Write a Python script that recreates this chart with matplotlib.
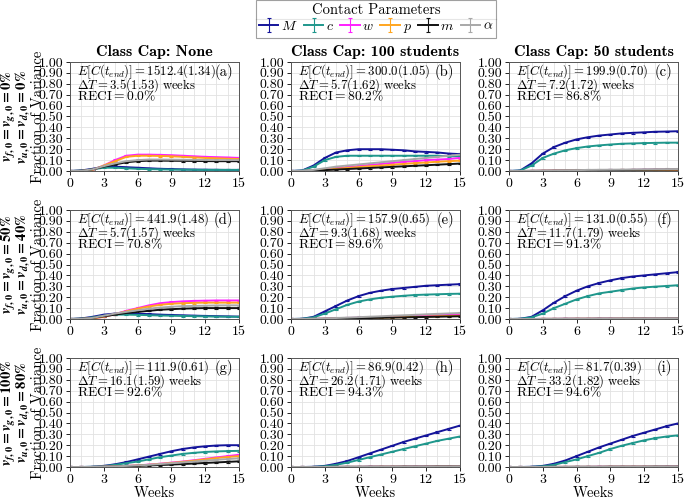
import matplotlib
matplotlib.use('Agg')
import matplotlib.pyplot as plt
from matplotlib.lines import Line2D
from matplotlib.ticker import MultipleLocator, FormatStrFormatter

plt.rcParams['font.family'] = 'serif'
plt.rcParams['font.serif'] = ['cmr10', 'DejaVu Serif']
plt.rcParams['mathtext.fontset'] = 'cm'
# bold italic math used only for the row labels (math_fontfamily='custom')
plt.rcParams['mathtext.it'] = 'STIXGeneral:italic:bold'
plt.rcParams['mathtext.rm'] = 'STIXGeneral:bold'
plt.rcParams['mathtext.bf'] = 'STIXGeneral:bold'
plt.rcParams['mathtext.cal'] = 'STIXGeneral:bold'
plt.rcParams['mathtext.sf'] = 'STIXGeneral:bold'
plt.rcParams['mathtext.tt'] = 'STIXGeneral:bold'
plt.rcParams['axes.unicode_minus'] = False

# ── Data ───────────────────────────────────────────────────────────────
weeks = list(range(16))
ERR = 0.006

params = ['M', 'c', 'w', 'p', 'm', 'alpha']
labels = [r'$M$', r'$c$', r'$w$', r'$p$', r'$m$', r'$\alpha$']
colors = ['#14149a', '#1f978c', '#ff1fff', '#ffa51f', '#111111', '#a8a8a8']

col_titles = ['Class Cap: None', 'Class Cap: 100 students', 'Class Cap: 50 students']
row_labels = [(r'$v_{f,0} = v_{g,0} = 0\%$', r'$v_{u,0} = v_{d,0} = 0\%$'),
              (r'$v_{f,0} = v_{g,0} = 50\%$', r'$v_{u,0} = v_{d,0} = 40\%$'),
              (r'$v_{f,0} = v_{g,0} = 100\%$', r'$v_{u,0} = v_{d,0} = 80\%$')]

e_cost = ['1512.4(1.34)', '300.0(1.05)', '199.9(0.70)',
          '441.9(1.48)', '157.9(0.65)', '131.0(0.55)',
          '111.9(0.61)', '86.9(0.42)', '81.7(0.39)']
delta_t = ['3.5(1.53)', '5.7(1.62)', '7.2(1.72)',
           '5.7(1.57)', '9.3(1.68)', '11.7(1.79)',
           '16.1(1.59)', '26.2(1.71)', '33.2(1.82)']
reci = ['0.0', '80.2', '86.8', '70.8', '89.6', '91.3', '92.6', '94.3', '94.6']
tags = ['(a)', '(b)', '(c)', '(d)', '(e)', '(f)', '(g)', '(h)', '(i)']

# panel (a)
M_a = [0, 0.005, 0.02, 0.04, 0.04, 0.035, 0.03, 0.025, 0.02, 0.018, 0.015, 0.013, 0.012, 0.011, 0.010, 0.010]
c_a = [0, 0.003, 0.015, 0.03, 0.03, 0.025, 0.02, 0.017, 0.015, 0.013, 0.012, 0.011, 0.010, 0.010, 0.010, 0.010]
w_a = [0, 0.0, 0.01, 0.05, 0.10, 0.14, 0.15, 0.15, 0.148, 0.145, 0.14, 0.135, 0.13, 0.127, 0.124, 0.12]
p_a = [0, 0.0, 0.01, 0.05, 0.09, 0.13, 0.14, 0.14, 0.138, 0.135, 0.13, 0.125, 0.12, 0.117, 0.113, 0.11]
m_a = [0, 0.002, 0.015, 0.04, 0.06, 0.08, 0.09, 0.095, 0.095, 0.094, 0.093, 0.092, 0.091, 0.09, 0.09, 0.09]
al_a = [0, 0.002, 0.015, 0.045, 0.07, 0.09, 0.10, 0.105, 0.105, 0.104, 0.103, 0.102, 0.101, 0.10, 0.10, 0.10]
# panel (b)
M_b = [0, 0.005, 0.05, 0.12, 0.17, 0.19, 0.20, 0.20, 0.20, 0.195, 0.19, 0.18, 0.175, 0.17, 0.16, 0.155]
c_b = [0, 0.004, 0.04, 0.10, 0.13, 0.14, 0.14, 0.14, 0.14, 0.14, 0.14, 0.14, 0.14, 0.14, 0.135, 0.135]
w_b = [0, 0, 0.005, 0.015, 0.025, 0.035, 0.045, 0.055, 0.065, 0.075, 0.085, 0.09, 0.10, 0.105, 0.11, 0.12]
p_b = [0, 0, 0.004, 0.012, 0.02, 0.028, 0.036, 0.044, 0.05, 0.058, 0.065, 0.072, 0.078, 0.085, 0.09, 0.095]
m_b = [0, 0, 0.003, 0.008, 0.013, 0.018, 0.023, 0.028, 0.033, 0.038, 0.043, 0.048, 0.053, 0.058, 0.063, 0.068]
al_b = [0, 0.002, 0.01, 0.025, 0.04, 0.05, 0.06, 0.07, 0.08, 0.09, 0.10, 0.11, 0.12, 0.13, 0.14, 0.15]
# panel (c)
M_c = [0, 0.005, 0.07, 0.16, 0.22, 0.26, 0.29, 0.31, 0.325, 0.335, 0.345, 0.35, 0.355, 0.36, 0.362, 0.365]
c_c = [0, 0.004, 0.05, 0.12, 0.16, 0.19, 0.21, 0.225, 0.235, 0.243, 0.25, 0.253, 0.256, 0.258, 0.26, 0.26]
w_c = [0, 0, 0.001, 0.002, 0.003, 0.004, 0.005, 0.006, 0.007, 0.008, 0.009, 0.01, 0.011, 0.012, 0.012, 0.013]
p_c = [0, 0, 0.001, 0.002, 0.003, 0.004, 0.005, 0.005, 0.006, 0.007, 0.008, 0.008, 0.009, 0.01, 0.01, 0.011]
m_c = [0, 0, 0.001, 0.002, 0.003, 0.004, 0.005, 0.006, 0.007, 0.008, 0.009, 0.01, 0.011, 0.012, 0.013, 0.014]
al_c = [0, 0, 0.002, 0.004, 0.005, 0.007, 0.008, 0.01, 0.011, 0.012, 0.013, 0.014, 0.015, 0.016, 0.017, 0.018]
# panel (d)
M_d = [0, 0.005, 0.02, 0.04, 0.05, 0.05, 0.048, 0.045, 0.04, 0.037, 0.034, 0.031, 0.028, 0.026, 0.024, 0.022]
c_d = [0, 0.003, 0.015, 0.03, 0.04, 0.04, 0.038, 0.035, 0.032, 0.03, 0.028, 0.026, 0.024, 0.022, 0.021, 0.02]
w_d = [0, 0, 0.005, 0.02, 0.045, 0.075, 0.10, 0.125, 0.145, 0.155, 0.162, 0.166, 0.168, 0.17, 0.17, 0.17]
p_d = [0, 0, 0.005, 0.02, 0.045, 0.07, 0.095, 0.115, 0.13, 0.14, 0.145, 0.148, 0.15, 0.15, 0.15, 0.15]
m_d = [0, 0.002, 0.01, 0.025, 0.04, 0.055, 0.065, 0.075, 0.085, 0.09, 0.095, 0.098, 0.10, 0.10, 0.10, 0.10]
al_d = [0, 0.002, 0.01, 0.03, 0.05, 0.065, 0.08, 0.095, 0.105, 0.112, 0.118, 0.12, 0.122, 0.124, 0.125, 0.125]
# panel (e)
M_e = [0, 0.002, 0.02, 0.07, 0.12, 0.17, 0.21, 0.24, 0.26, 0.275, 0.285, 0.295, 0.305, 0.31, 0.315, 0.32]
c_e = [0, 0.002, 0.015, 0.05, 0.09, 0.13, 0.16, 0.18, 0.195, 0.205, 0.213, 0.22, 0.224, 0.227, 0.23, 0.232]
w_e = [0, 0, 0.001, 0.003, 0.006, 0.009, 0.012, 0.015, 0.018, 0.021, 0.024, 0.028, 0.031, 0.034, 0.037, 0.04]
p_e = [0, 0, 0.001, 0.002, 0.004, 0.006, 0.008, 0.01, 0.012, 0.015, 0.017, 0.02, 0.022, 0.025, 0.028, 0.03]
m_e = [0, 0, 0.001, 0.002, 0.004, 0.005, 0.007, 0.009, 0.011, 0.013, 0.015, 0.017, 0.019, 0.021, 0.023, 0.025]
al_e = [0, 0, 0.002, 0.005, 0.009, 0.013, 0.017, 0.021, 0.025, 0.03, 0.034, 0.038, 0.043, 0.047, 0.051, 0.055]
# panel (f)
M_f = [0, 0.002, 0.02, 0.08, 0.15, 0.21, 0.26, 0.30, 0.33, 0.355, 0.375, 0.39, 0.40, 0.41, 0.42, 0.43]
c_f = [0, 0.002, 0.015, 0.05, 0.10, 0.14, 0.18, 0.21, 0.235, 0.25, 0.265, 0.28, 0.29, 0.297, 0.303, 0.31]
w_f = [0, 0, 0, 0.001, 0.001, 0.002, 0.002, 0.002, 0.003, 0.003, 0.003, 0.003, 0.004, 0.004, 0.004, 0.004]
p_f = [0, 0, 0, 0.001, 0.001, 0.001, 0.002, 0.002, 0.002, 0.002, 0.003, 0.003, 0.003, 0.003, 0.003, 0.003]
m_f = [0, 0, 0, 0.001, 0.001, 0.002, 0.002, 0.002, 0.003, 0.003, 0.003, 0.004, 0.004, 0.004, 0.005, 0.005]
al_f = [0, 0, 0, 0.001, 0.002, 0.002, 0.003, 0.003, 0.004, 0.004, 0.005, 0.005, 0.005, 0.006, 0.006, 0.006]
# panel (g)
M_g = [0, 0, 0.002, 0.01, 0.025, 0.045, 0.07, 0.095, 0.12, 0.145, 0.165, 0.18, 0.19, 0.197, 0.2, 0.2]
c_g = [0, 0, 0.002, 0.008, 0.02, 0.035, 0.05, 0.07, 0.09, 0.105, 0.12, 0.13, 0.138, 0.143, 0.146, 0.148]
w_g = [0, 0, 0, 0.002, 0.005, 0.01, 0.015, 0.022, 0.03, 0.04, 0.05, 0.062, 0.075, 0.088, 0.1, 0.112]
p_g = [0, 0, 0, 0.002, 0.005, 0.009, 0.014, 0.02, 0.028, 0.037, 0.047, 0.058, 0.07, 0.082, 0.092, 0.1]
m_g = [0, 0, 0, 0.002, 0.004, 0.007, 0.01, 0.014, 0.018, 0.022, 0.027, 0.032, 0.037, 0.042, 0.047, 0.052]
al_g = [0, 0, 0.001, 0.003, 0.006, 0.01, 0.015, 0.02, 0.027, 0.034, 0.042, 0.05, 0.058, 0.066, 0.073, 0.08]
# panel (h)
M_h = [0, 0, 0.002, 0.01, 0.03, 0.055, 0.09, 0.125, 0.16, 0.195, 0.23, 0.26, 0.29, 0.32, 0.35, 0.38]
c_h = [0, 0, 0.001, 0.007, 0.02, 0.04, 0.065, 0.09, 0.115, 0.14, 0.165, 0.19, 0.215, 0.24, 0.26, 0.28]
w_h = [0, 0, 0, 0, 0.001, 0.001, 0.001, 0.002, 0.002, 0.002, 0.002, 0.003, 0.003, 0.003, 0.003, 0.003]
p_h = [0, 0, 0, 0, 0.001, 0.001, 0.001, 0.001, 0.002, 0.002, 0.002, 0.002, 0.002, 0.003, 0.003, 0.003]
m_h = [0, 0, 0, 0.001, 0.001, 0.002, 0.002, 0.003, 0.003, 0.003, 0.004, 0.004, 0.004, 0.005, 0.005, 0.005]
al_h = [0, 0, 0, 0.001, 0.001, 0.002, 0.002, 0.002, 0.003, 0.003, 0.003, 0.004, 0.004, 0.004, 0.004, 0.005]
# panel (i)
M_i = [0, 0, 0.002, 0.01, 0.03, 0.06, 0.1, 0.14, 0.18, 0.215, 0.25, 0.285, 0.315, 0.345, 0.375, 0.40]
c_i = [0, 0, 0.001, 0.007, 0.02, 0.045, 0.07, 0.1, 0.13, 0.165, 0.195, 0.22, 0.245, 0.265, 0.28, 0.29]
w_i = [0, 0, 0, 0, 0.001, 0.001, 0.001, 0.001, 0.002, 0.002, 0.002, 0.002, 0.002, 0.002, 0.003, 0.003]
p_i = [0, 0, 0, 0, 0.001, 0.001, 0.001, 0.001, 0.001, 0.002, 0.002, 0.002, 0.002, 0.002, 0.002, 0.002]
m_i = [0, 0, 0, 0.001, 0.001, 0.001, 0.002, 0.002, 0.002, 0.003, 0.003, 0.003, 0.003, 0.004, 0.004, 0.004]
al_i = [0, 0, 0, 0.001, 0.001, 0.001, 0.002, 0.002, 0.002, 0.003, 0.003, 0.003, 0.003, 0.004, 0.004, 0.004]

panels = [
    [M_a, c_a, w_a, p_a, m_a, al_a], [M_b, c_b, w_b, p_b, m_b, al_b], [M_c, c_c, w_c, p_c, m_c, al_c],
    [M_d, c_d, w_d, p_d, m_d, al_d], [M_e, c_e, w_e, p_e, m_e, al_e], [M_f, c_f, w_f, p_f, m_f, al_f],
    [M_g, c_g, w_g, p_g, m_g, al_g], [M_h, c_h, w_h, p_h, m_h, al_h], [M_i, c_i, w_i, p_i, m_i, al_i],
]

# ── Figure ─────────────────────────────────────────────────────────────
W, H = 685, 499
fig = plt.figure(figsize=(W / 100, H / 100), dpi=100)

col_left = [70, 291, 509]
row_top = [62, 210, 358]
ax_w, ax_h = 169, 109

handles = None
for r in range(3):
    for cidx in range(3):
        k = r * 3 + cidx
        ax = fig.add_axes([col_left[cidx] / W, 1 - (row_top[r] + ax_h) / H, ax_w / W, ax_h / H])
        hs = []
        for series, col in zip(panels[k], colors):
            h = ax.errorbar(weeks, series, yerr=ERR, color=col, lw=1.4,
                            elinewidth=0.8, capsize=1.6, capthick=0.8)
            hs.append(h)
        if handles is None:
            handles = hs

        ax.set_xlim(0, 15)
        ax.set_ylim(0, 1)
        ax.set_xticks([0, 3, 6, 9, 12, 15])
        ax.xaxis.set_minor_locator(MultipleLocator(1))
        ax.yaxis.set_major_locator(MultipleLocator(0.1))
        ax.yaxis.set_major_formatter(FormatStrFormatter('%.2f'))
        ax.grid(which='both', color='#e2e2e2', lw=0.6)
        ax.set_axisbelow(True)
        ax.tick_params(labelsize=10, length=3, width=0.6, pad=2)
        ax.tick_params(which='minor', length=0)
        for sp in ax.spines.values():
            sp.set_color('#555555')
            sp.set_linewidth(0.7)

        if r == 0:
            ax.set_title(col_titles[cidx], fontsize=11.5, fontfamily='cmb10', pad=4)
        if r == 2:
            ax.set_xlabel('Weeks', fontsize=10.5, labelpad=0)

        ax.text(0.04, 0.91, r'$E\left[C(t_{end})\right] = ' + e_cost[k] + '$',
                transform=ax.transAxes, fontsize=9.2, va='center', ha='left')
        ax.text(0.04, 0.787, r'$\Delta T = ' + delta_t[k] + r'\ \mathrm{weeks}$',
                transform=ax.transAxes, fontsize=9.2, va='center', ha='left')
        ax.text(0.04, 0.685, r'$\mathrm{RECI} = ' + reci[k] + r'\%$',
                transform=ax.transAxes, fontsize=9.8, va='center', ha='left')
        ax.text(0.965, 0.91, tags[k], transform=ax.transAxes,
                fontsize=10.5, va='center', ha='right')

    yc = 1 - (row_top[r] + ax_h / 2) / H
    fig.text(9 / W, yc, row_labels[r][0], rotation=90, fontsize=10.5, ha='center', va='center',
             math_fontfamily='custom')
    fig.text(23 / W, yc, row_labels[r][1], rotation=90, fontsize=10.5, ha='center', va='center',
             math_fontfamily='custom')
    fig.text(38 / W, yc, 'Fraction of Variance', rotation=90, fontsize=10.5, ha='center', va='center')

leg = fig.legend(handles, labels, loc='upper center', bbox_to_anchor=(376 / W, 0.999),
                 ncol=6, title='Contact Parameters', fontsize=10, title_fontsize=10.5,
                 frameon=True, fancybox=False, edgecolor='#888888', borderpad=0.2,
                 handlelength=1.4, handletextpad=0.2, columnspacing=0.45, labelspacing=0.2,
                 borderaxespad=0)
leg.get_frame().set_linewidth(0.8)

fig.canvas.draw()
inv = fig.transFigure.inverted()
bb = leg.get_window_extent().transformed(inv)
tb = leg.get_title().get_window_extent().transformed(inv)
sep_y = tb.y0 - 2 / H
fig.add_artist(Line2D([bb.x0, bb.x1], [sep_y, sep_y], color='#888888', lw=0.8,
                      transform=fig.transFigure))

fig.savefig('out.png', dpi=100)
